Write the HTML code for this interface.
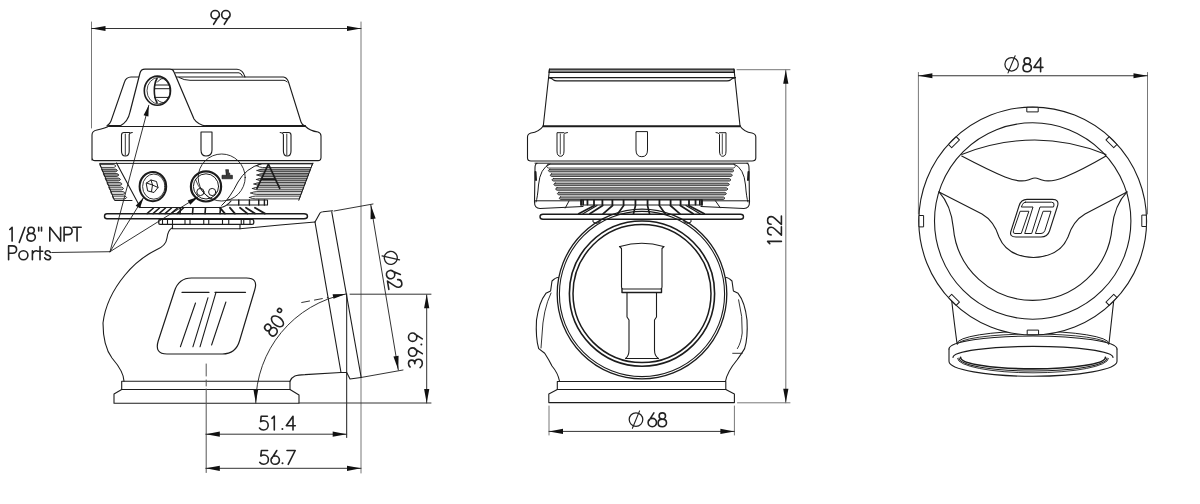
<!DOCTYPE html>
<html><head><meta charset="utf-8"><style>
html,body{margin:0;padding:0;background:#fff;}
svg{display:block;will-change:transform;}
text{font-family:"Liberation Sans",sans-serif;}
</style></head><body>
<svg width="1200" height="504" viewBox="0 0 1200 504" stroke-linecap="round" stroke-linejoin="round">
<rect width="1200" height="504" fill="#fff"/>
<line x1="91.5" y1="22" x2="91.5" y2="128" stroke="#787878" stroke-width="1.0" />
<line x1="361" y1="22" x2="361" y2="473" stroke="#787878" stroke-width="1.0" />
<line x1="91.5" y1="28.5" x2="361" y2="28.5" stroke="#333" stroke-width="1.0" />
<path d="M91.50,28.50 L105.50,25.90 L105.50,31.10 Z" fill="#111" stroke="none"/>
<path d="M361.00,28.50 L347.00,31.10 L347.00,25.90 Z" fill="#111" stroke="none"/>
<g transform="translate(211,24.3) scale(1.0000,1.0000)" fill="none" stroke="#222" stroke-width="1.600" stroke-linecap="round" stroke-linejoin="round"><path transform="translate(0.00,0)" d="M2.6,0 L7.5,-7.7 M8.4,-9.65 C8.4,-7.4 6.6,-5.5 4.2,-5.5 C1.8,-5.5 0,-7.4 0,-9.65 C0,-11.9 1.8,-13.8 4.2,-13.8 C6.6,-13.8 8.4,-11.9 8.4,-9.65 Z"/><path transform="translate(10.70,0)" d="M2.6,0 L7.5,-7.7 M8.4,-9.65 C8.4,-7.4 6.6,-5.5 4.2,-5.5 C1.8,-5.5 0,-7.4 0,-9.65 C0,-11.9 1.8,-13.8 4.2,-13.8 C6.6,-13.8 8.4,-11.9 8.4,-9.65 Z"/></g>
<path d="M172,69.2 L237,69.2 Q243,69.5 245,77" stroke="#1c1c1c" stroke-width="1.1" fill="none" />
<path d="M175.5,72.8 L239,72.8 Q241.5,73.5 242.5,76" stroke="#1c1c1c" stroke-width="1.0" fill="none" />
<path d="M107,125.8 Q110,124 111,121 L124.5,82 Q126,77.2 131,77 L283.4,77 Q287,77.5 288.5,82 L301,122 Q302,125 305,126" stroke="#1c1c1c" stroke-width="1.1" fill="none" />
<path d="M179,77.5 Q184,80.3 190,80.3 L284,80.3 Q286,80.5 287,82" stroke="#1c1c1c" stroke-width="1.0" fill="none" />
<line x1="109" y1="126" x2="305" y2="126" stroke="#1c1c1c" stroke-width="2.0" />
<path d="M120,126 Q128,122 130,112 L140,73 Q141,69.2 145,69.2 L170,69.2 Q173,69.2 174,72 L194,119 Q198,125 206.5,126" stroke="#1c1c1c" stroke-width="1.2" fill="#fff" />
<ellipse cx="157.4" cy="90.7" rx="13.1" ry="14.6" fill="#fff" stroke="#1c1c1c" stroke-width="1.6"/>
<ellipse cx="158.6" cy="90.7" rx="11.6" ry="13.2" fill="none" stroke="#1c1c1c" stroke-width="0.8"/>
<path d="M157,78.5 Q154.3,83 154.3,90.7 Q154.3,98 157,102.5" stroke="#1c1c1c" stroke-width="1.6" fill="none" />
<path d="M154.5,85 L169.5,85 M154.5,88.7 L170,88.7 M154.5,97.4 L168.5,97.4" stroke="#1c1c1c" stroke-width="1.0" fill="none" />
<path d="M157.5,82 Q161,77 166,79 M157.5,100 Q162,104 166,102" stroke="#1c1c1c" stroke-width="0.9" fill="none" />
<path d="M92,160 L92,135 Q92,131 97,130 Q106,128 109,126 M305,126 Q310,131 318,132 Q321,133 321,136 L321,157.5 Q321,160.6 318,160.6 L95,160.6 Q92,160.6 92,157.5" stroke="#1c1c1c" stroke-width="1.1" fill="none" />
<line x1="100" y1="163.4" x2="313" y2="163.4" stroke="#1c1c1c" stroke-width="1.0" />
<path d="M132.3,132.5 Q129.5,132.7 129.2,134.5 L129.2,151 Q129.2,156 125.3,156 Q121.5,156 121.5,151 L121.5,135 Q121.5,132.5 124,132.5 L129.5,132.5" stroke="#1c1c1c" stroke-width="1.1" fill="none" />
<path d="M125.3,134 L125.3,155" stroke="#1c1c1c" stroke-width="0.9" fill="none" />
<path d="M201,132 L201,150 Q201,156 206,156 Q212,156 212,150 L212,132 Z" stroke="#1c1c1c" stroke-width="1.1" fill="none" />
<path d="M280.2,132.5 Q283,132.7 283.4,134.5 L283.4,151 Q283.4,156 287.2,156 Q291,156 291,151 L291,135 Q291,132.5 288.5,132.5 L283,132.5" stroke="#1c1c1c" stroke-width="1.1" fill="none" />
<path d="M286.8,134 L286.8,155" stroke="#1c1c1c" stroke-width="0.9" fill="none" />
<path d="M100.1,164.6 L113.9,164.6 Q117.9,166.0 113.9,167.4 L101.3,167.4 Z" stroke="#1c1c1c" stroke-width="0.85" fill="#fff" />
<path d="M101.9,169.1 L115.4,169.1 Q119.4,170.5 115.4,171.9 L103.1,171.9 Z" stroke="#1c1c1c" stroke-width="0.85" fill="#8e8e8e" />
<path d="M103.7,173.6 L116.9,173.6 Q120.9,175.0 116.9,176.4 L104.9,176.4 Z" stroke="#1c1c1c" stroke-width="0.85" fill="#8e8e8e" />
<path d="M105.5,178.1 L118.5,178.1 Q122.5,179.5 118.5,180.9 L106.7,180.9 Z" stroke="#1c1c1c" stroke-width="0.85" fill="#9a9a9a" />
<path d="M107.3,182.6 L120.0,182.6 Q124.0,184.0 120.0,185.4 L108.5,185.4 Z" stroke="#1c1c1c" stroke-width="0.85" fill="#b8b8b8" />
<path d="M109.1,187.1 L121.5,187.1 Q125.5,188.5 121.5,189.9 L110.3,189.9 Z" stroke="#1c1c1c" stroke-width="0.85" fill="#c8c8c8" />
<path d="M110.9,191.6 L123.0,191.6 Q127.0,193.0 123.0,194.4 L112.1,194.4 Z" stroke="#1c1c1c" stroke-width="0.85" fill="#e0e0e0" />
<path d="M112.7,196.1 L124.6,196.1 Q128.6,197.5 124.6,198.9 L113.9,198.9 Z" stroke="#1c1c1c" stroke-width="0.85" fill="#f0f0f0" />
<path d="M99.8,163.75 L114.6,200.5 L132,200.5" stroke="#1c1c1c" stroke-width="1.0" fill="none" />
<path d="M116.5,162.9 L140.4,207.5 L220,207.5 Q226,207.3 231,201" stroke="#1c1c1c" stroke-width="1.1" fill="none" />
<path d="M256.5,165.7 Q259.5,163.9 262.5,163.9 L312.5,163.9 L311.1,167.5 L262.5,167.5 Q259.5,167.5 256.5,165.7 Z" stroke="#1c1c1c" stroke-width="0.85" fill="#fff" />
<path d="M257.0,170.5 Q260.0,169.1 263.0,169.1 L310.5,169.1 L309.5,171.9 L263.0,171.9 Q260.0,171.9 257.0,170.5 Z" stroke="#1c1c1c" stroke-width="0.85" fill="#8e8e8e" />
<path d="M257.0,175.0 Q260.0,173.6 263.0,173.6 L308.8,173.6 L307.8,176.4 L263.0,176.4 Q260.0,176.4 257.0,175.0 Z" stroke="#1c1c1c" stroke-width="0.85" fill="#8e8e8e" />
<path d="M256.5,179.5 Q259.5,178.1 262.5,178.1 L307.1,178.1 L306.1,180.9 L262.5,180.9 Q259.5,180.9 256.5,179.5 Z" stroke="#1c1c1c" stroke-width="0.85" fill="#9a9a9a" />
<path d="M254.0,184.0 Q257.0,182.6 260.0,182.6 L305.4,182.6 L304.4,185.4 L260.0,185.4 Q257.0,185.4 254.0,184.0 Z" stroke="#1c1c1c" stroke-width="0.85" fill="#b8b8b8" />
<path d="M252.5,188.5 Q255.5,187.1 258.5,187.1 L303.7,187.1 L302.7,189.9 L258.5,189.9 Q255.5,189.9 252.5,188.5 Z" stroke="#1c1c1c" stroke-width="0.85" fill="#c8c8c8" />
<path d="M250.8,193.0 Q253.8,191.6 256.8,191.6 L302.0,191.6 L301.0,194.4 L256.8,194.4 Q253.8,194.4 250.8,193.0 Z" stroke="#1c1c1c" stroke-width="0.85" fill="#e0e0e0" />
<path d="M249.5,197.5 Q252.5,196.1 255.5,196.1 L300.3,196.1 L299.3,198.9 L255.5,198.9 Q252.5,198.9 249.5,197.5 Z" stroke="#1c1c1c" stroke-width="0.85" fill="#f0f0f0" />
<path d="M312.75,163.2 L298.8,200.3" stroke="#1c1c1c" stroke-width="1.0" fill="none" />
<path d="M261,163.8 Q246,168 238,182 Q230,198 221.7,205.4" stroke="#1c1c1c" stroke-width="1.0" fill="none" />
<path d="M257,188.4 L268.4,164.2 L279.7,188.4 M261.7,179.2 L275,179.2" stroke="#1c1c1c" stroke-width="1.7" fill="none" />
<ellipse cx="152.9" cy="186.6" rx="13.3" ry="14.6" fill="#fff" stroke="#1c1c1c" stroke-width="2.0"/>
<ellipse cx="153.8" cy="186.6" rx="11.2" ry="12.6" fill="none" stroke="#1c1c1c" stroke-width="0.9"/>
<path d="M146.5,183 L151,180 L156.5,181.5 L158,187.5 L154,192.5 L148,191 Z M151,180 L152.5,185 L158,187.5 M152.5,185 L146.5,183 M152.5,185 L151.5,191.5" stroke="#1c1c1c" stroke-width="1.0" fill="none" />
<circle cx="206" cy="186.4" r="15.1" stroke="#1c1c1c" stroke-width="2.2" fill="#fff" />
<circle cx="206" cy="186.4" r="12.6" stroke="#1c1c1c" stroke-width="1.0" fill="none" />
<circle cx="200.4" cy="192" r="3.6" stroke="#1c1c1c" stroke-width="1.0" fill="none" />
<circle cx="212.2" cy="192" r="3.6" stroke="#1c1c1c" stroke-width="1.0" fill="none" />
<path d="M195.5,179.4 Q200,192 210.8,198.9" stroke="#1c1c1c" stroke-width="0.8" fill="none" />
<circle cx="221.7" cy="177.5" r="23.5" stroke="#1c1c1c" stroke-width="0.9" fill="none" />
<path d="M226,169.7 L228.5,169.7 L228.5,172.5 L230,173.5 L229.5,175.3 L232.4,175.3 L232.4,178.75 L222,178.75 L222,175.3 L226,175.3 Z" stroke="#1c1c1c" stroke-width="0.7" fill="#3a3a3a" />
<path d="M227.5,200 L267.5,200 L267.5,205 L227.5,205" stroke="#1c1c1c" stroke-width="1.1" fill="none" />
<line x1="238.75" y1="200" x2="238.75" y2="205" stroke="#1c1c1c" stroke-width="1.4" />
<line x1="249.4" y1="200" x2="249.4" y2="205" stroke="#1c1c1c" stroke-width="1.4" />
<line x1="258.75" y1="200" x2="258.75" y2="205" stroke="#1c1c1c" stroke-width="1.4" />
<line x1="264.4" y1="200" x2="264.4" y2="205" stroke="#1c1c1c" stroke-width="1.4" />
<line x1="147" y1="213.6" x2="153.5" y2="208" stroke="#1c1c1c" stroke-width="1.5" />
<line x1="153" y1="213.6" x2="159.5" y2="208" stroke="#1c1c1c" stroke-width="1.5" />
<line x1="159" y1="213.6" x2="165.5" y2="208" stroke="#1c1c1c" stroke-width="1.5" />
<line x1="165" y1="213.6" x2="171.5" y2="208" stroke="#1c1c1c" stroke-width="1.5" />
<line x1="171" y1="213.6" x2="177.5" y2="208" stroke="#1c1c1c" stroke-width="1.5" />
<line x1="177" y1="213.6" x2="183.5" y2="208" stroke="#1c1c1c" stroke-width="1.5" />
<line x1="180" y1="213.6" x2="180.5" y2="207.8" stroke="#1c1c1c" stroke-width="1.6" />
<line x1="192.5" y1="213.6" x2="193.0" y2="207.8" stroke="#1c1c1c" stroke-width="1.6" />
<line x1="205" y1="213.6" x2="205.5" y2="207.8" stroke="#1c1c1c" stroke-width="1.6" />
<line x1="220" y1="213.6" x2="220.5" y2="207.8" stroke="#1c1c1c" stroke-width="1.6" />
<line x1="220" y1="207.8" x2="225" y2="213.6" stroke="#1c1c1c" stroke-width="1.8" />
<line x1="230" y1="207.8" x2="235" y2="213.6" stroke="#1c1c1c" stroke-width="1.8" />
<line x1="240" y1="207.8" x2="247.5" y2="213.6" stroke="#1c1c1c" stroke-width="1.8" />
<line x1="246" y1="207.8" x2="255" y2="213.6" stroke="#1c1c1c" stroke-width="1.8" />
<line x1="255" y1="207.8" x2="265" y2="213.6" stroke="#1c1c1c" stroke-width="1.8" />
<path d="M107,213.75 L304,213.75 Q307.5,213.75 307.5,216.25 Q307.5,218.75 304,218.75 L107,218.75 Q104.5,218.75 104.5,216.25 Q104.5,213.75 107,213.75 Z" stroke="#1c1c1c" stroke-width="1.4" fill="none" />
<path d="M160,219.4 L252,219.4 Q253.75,219.4 253.75,221 L253.75,223 Q253.75,224.4 252,224.4 L160,224.4 Q158.75,224.4 158.75,223 L158.75,221 Q158.75,219.4 160,219.4 Z" stroke="#1c1c1c" stroke-width="1.3" fill="none" />
<line x1="162.5" y1="219.6" x2="162.5" y2="224.2" stroke="#1c1c1c" stroke-width="1.1" />
<line x1="167.5" y1="219.6" x2="167.5" y2="224.2" stroke="#1c1c1c" stroke-width="1.1" />
<line x1="172.5" y1="219.6" x2="172.5" y2="224.2" stroke="#1c1c1c" stroke-width="1.1" />
<line x1="185" y1="219.6" x2="185" y2="224.2" stroke="#1c1c1c" stroke-width="1.1" />
<line x1="190" y1="219.6" x2="190" y2="224.2" stroke="#1c1c1c" stroke-width="1.1" />
<line x1="203.75" y1="219.6" x2="203.75" y2="224.2" stroke="#1c1c1c" stroke-width="1.1" />
<line x1="208.75" y1="219.6" x2="208.75" y2="224.2" stroke="#1c1c1c" stroke-width="1.1" />
<line x1="222.5" y1="219.6" x2="222.5" y2="224.2" stroke="#1c1c1c" stroke-width="1.1" />
<line x1="228.75" y1="219.6" x2="228.75" y2="224.2" stroke="#1c1c1c" stroke-width="1.1" />
<line x1="241.25" y1="219.6" x2="241.25" y2="224.2" stroke="#1c1c1c" stroke-width="1.1" />
<line x1="243.75" y1="219.6" x2="243.75" y2="224.2" stroke="#1c1c1c" stroke-width="1.1" />
<line x1="250" y1="219.6" x2="250" y2="224.2" stroke="#1c1c1c" stroke-width="1.1" />
<path d="M172.5,224.6 L172.5,228.75 L240,228.75 L240,224.6" stroke="#1c1c1c" stroke-width="1.1" fill="none" />
<path d="M240,228.75 L280,225 L315,222" stroke="#1c1c1c" stroke-width="1.1" fill="none" />
<path d="M315,222 L320,213 Q321,211.8 323,211.7 L332.5,210.8" stroke="#1c1c1c" stroke-width="1.1" fill="none" />
<line x1="315" y1="222" x2="341" y2="372.5" stroke="#1c1c1c" stroke-width="1.1" />
<line x1="331.7" y1="211.7" x2="361.2" y2="377.5" stroke="#1c1c1c" stroke-width="1.1" />
<line x1="346.7" y1="294" x2="346.7" y2="437.5" stroke="#1c1c1c" stroke-width="1.0" />
<path d="M290,381.3 C292,376 296,374.8 305,374.6 L340.8,372.5 L346.7,372.5 L350,379 L361,377.5" stroke="#1c1c1c" stroke-width="1.1" fill="none" />
<path d="M172,228 Q168,230 167,238 Q166,246 156,250 Q138,259 125,275 Q106,298 103,323 Q103,346 112,358 Q124,372 124,381.3" stroke="#1c1c1c" stroke-width="1.1" fill="none" />
<path d="M121.7,381.3 L290,381.3 L290,389.5 L121.7,389.5 Z" stroke="#1c1c1c" stroke-width="1.1" fill="none" />
<path d="M121.7,389.5 L114,394 L114,403.3 L299,403.3 L299,395 L290,389.5" stroke="#1c1c1c" stroke-width="1.1" fill="none" />
<path d="M191.5,278 L246.5,278 Q258.5,278 254.7,290 L239.5,341 Q235.6,354 222.5,354 L167,354 Q154.3,354 158.2,341 L174.5,291 Q178.7,278 191.5,278 Z" stroke="#1c1c1c" stroke-width="1.2" fill="none" />
<path d="M182,292.3 L209,292.3 M215,292.3 L245.5,292.3" stroke="#1c1c1c" stroke-width="1.3" fill="none" />
<line x1="195.5" y1="303" x2="180.4" y2="346.8" stroke="#1c1c1c" stroke-width="1.1" />
<line x1="208" y1="297.7" x2="192.9" y2="346.8" stroke="#1c1c1c" stroke-width="1.1" />
<line x1="216" y1="292.3" x2="200" y2="346.8" stroke="#1c1c1c" stroke-width="1.1" />
<line x1="225.9" y1="302" x2="211.6" y2="345" stroke="#1c1c1c" stroke-width="1.1" />
<line x1="206.2" y1="364" x2="206.2" y2="376" stroke="#555" stroke-width="1.0" />
<line x1="206.2" y1="380" x2="206.2" y2="386" stroke="#555" stroke-width="1.0" />
<line x1="206.2" y1="389" x2="206.2" y2="472.5" stroke="#555" stroke-width="1.0" />
<path d="M255.8,403 A111,111 0 0 1 345.8,294" stroke="#1c1c1c" stroke-width="0.9" fill="none" />
<path d="M255.80,403.00 L253.50,390.00 L258.10,390.00 Z" fill="#111" stroke="none"/>
<path d="M345.80,294.00 L333.52,298.83 L332.60,294.33 Z" fill="#111" stroke="none"/>
<line x1="301.7" y1="302.5" x2="328" y2="297.5" stroke="#1c1c1c" stroke-width="0.9" stroke-dasharray="8,5"/>
<g transform="translate(273.6,337.5) rotate(-52) scale(1.0000,1.0000)" fill="none" stroke="#222" stroke-width="1.600" stroke-linecap="round" stroke-linejoin="round"><path transform="translate(0.00,0)" d="M4.3,-13.8 C6.1,-13.8 7.5,-12.4 7.5,-10.6 C7.5,-8.8 6.1,-7.6 4.3,-7.6 C2.5,-7.6 1.1,-8.8 1.1,-10.6 C1.1,-12.4 2.5,-13.8 4.3,-13.8 Z M4.3,-7.6 C6.7,-7.6 8.5,-6 8.5,-3.8 C8.5,-1.6 6.7,0 4.3,0 C1.9,0 0.1,-1.6 0.1,-3.8 C0.1,-6 1.9,-7.6 4.3,-7.6 Z"/><path transform="translate(10.85,0)" d="M4.25,-13.8 C6.6,-13.8 8.5,-10.7 8.5,-6.9 C8.5,-3.1 6.6,0 4.25,0 C1.9,0 0,-3.1 0,-6.9 C0,-10.7 1.9,-13.8 4.25,-13.8 Z"/><path transform="translate(23.00,0)" d="M2,-14 C3.1,-14 4,-13.1 4,-12 C4,-10.9 3.1,-10 2,-10 C0.9,-10 0,-10.9 0,-12 C0,-13.1 0.9,-14 2,-14 Z"/></g>
<line x1="334" y1="211" x2="373" y2="204" stroke="#1c1c1c" stroke-width="0.9" />
<line x1="361" y1="377.5" x2="403" y2="370" stroke="#1c1c1c" stroke-width="0.9" />
<line x1="370.8" y1="205" x2="398.3" y2="370" stroke="#1c1c1c" stroke-width="0.9" />
<path d="M370.80,205.00 L375.67,218.38 L370.54,219.24 Z" fill="#111" stroke="none"/>
<path d="M398.30,370.00 L393.43,356.62 L398.56,355.76 Z" fill="#111" stroke="none"/>
<g transform="translate(390.8,257.9) rotate(80.5)"><circle r="6.5" fill="none" stroke="#222" stroke-width="1.3"/><line x1="-3.45" y1="8.32" x2="3.45" y2="-8.32" stroke="#222" stroke-width="1.17"/></g>
<g transform="translate(385.7794,270.90349999999995) rotate(80.5) scale(1.0000,1.0000)" fill="none" stroke="#222" stroke-width="1.600" stroke-linecap="round" stroke-linejoin="round"><path transform="translate(0.00,0)" d="M6,-13.8 L1.1,-6.1 M0.2,-4.15 C0.2,-6.4 2,-8.3 4.4,-8.3 C6.8,-8.3 8.6,-6.4 8.6,-4.15 C8.6,-1.9 6.8,0 4.4,0 C2,0 0.2,-1.9 0.2,-4.15 Z"/><path transform="translate(10.10,0)" d="M0.5,-10.3 C0.5,-12.5 2.2,-13.8 4.3,-13.8 C6.5,-13.8 8.1,-12.3 8.1,-10.2 C8.1,-8.8 7.5,-7.8 6.4,-6.6 L0.2,0 L8.6,0"/></g>
<line x1="350" y1="294.2" x2="431" y2="294.2" stroke="#333" stroke-width="1.0" />
<line x1="299" y1="403" x2="431" y2="403" stroke="#333" stroke-width="1.0" />
<line x1="426.7" y1="295" x2="426.7" y2="403" stroke="#333" stroke-width="1.0" />
<path d="M426.70,294.20 L429.30,308.20 L424.10,308.20 Z" fill="#111" stroke="none"/>
<path d="M426.70,403.00 L424.10,389.00 L429.30,389.00 Z" fill="#111" stroke="none"/>
<g transform="translate(422.3,367.7) rotate(-90) scale(1.0000,1.0000)" fill="none" stroke="#222" stroke-width="1.600" stroke-linecap="round" stroke-linejoin="round"><path transform="translate(0.00,0)" d="M0.7,-12.2 C1.5,-13.3 2.7,-13.8 4.1,-13.8 C6.2,-13.8 7.6,-12.5 7.6,-10.6 C7.6,-8.7 6.2,-7.5 4,-7.5 C6.6,-7.5 8.5,-6 8.5,-3.8 C8.5,-1.4 6.6,0 4.2,0 C2.4,0 1,-0.8 0.1,-2.2"/><path transform="translate(11.40,0)" d="M2.6,0 L7.5,-7.7 M8.4,-9.65 C8.4,-7.4 6.6,-5.5 4.2,-5.5 C1.8,-5.5 0,-7.4 0,-9.65 C0,-11.9 1.8,-13.8 4.2,-13.8 C6.6,-13.8 8.4,-11.9 8.4,-9.65 Z"/><path transform="translate(26.30,0)" d="M2.6,0 L7.5,-7.7 M8.4,-9.65 C8.4,-7.4 6.6,-5.5 4.2,-5.5 C1.8,-5.5 0,-7.4 0,-9.65 C0,-11.9 1.8,-13.8 4.2,-13.8 C6.6,-13.8 8.4,-11.9 8.4,-9.65 Z"/><circle cx="23.30" cy="-0.95" r="1.0" fill="#222" stroke="none"/></g>
<line x1="205.8" y1="434.2" x2="346.7" y2="434.2" stroke="#333" stroke-width="1.0" />
<path d="M205.80,434.20 L219.80,431.60 L219.80,436.80 Z" fill="#111" stroke="none"/>
<path d="M346.70,434.20 L332.70,436.80 L332.70,431.60 Z" fill="#111" stroke="none"/>
<g transform="translate(259.5,430) scale(1.0000,1.0000)" fill="none" stroke="#222" stroke-width="1.600" stroke-linecap="round" stroke-linejoin="round"><path transform="translate(0.00,0)" d="M7.9,-13.8 L1.7,-13.8 L1.1,-8.3 C2,-9 3.1,-9.3 4.3,-9.3 C6.8,-9.3 8.7,-7.4 8.7,-4.7 C8.7,-1.8 6.6,0 4,0 C2.3,0 0.9,-0.7 0,-2"/><path transform="translate(12.50,0)" d="M0,-11.6 L2.3,-13.8 L2.3,0"/><path transform="translate(26.80,0)" d="M6.7,0 L6.7,-13.8 L0,-4.3 L9,-4.3"/><circle cx="22.90" cy="-0.95" r="1.0" fill="#222" stroke="none"/></g>
<line x1="205.8" y1="468.3" x2="361" y2="468.3" stroke="#333" stroke-width="1.0" />
<path d="M205.80,468.30 L219.80,465.70 L219.80,470.90 Z" fill="#111" stroke="none"/>
<path d="M361.00,468.30 L347.00,470.90 L347.00,465.70 Z" fill="#111" stroke="none"/>
<g transform="translate(259.7,464.3) scale(1.0000,1.0000)" fill="none" stroke="#222" stroke-width="1.600" stroke-linecap="round" stroke-linejoin="round"><path transform="translate(0.00,0)" d="M7.9,-13.8 L1.7,-13.8 L1.1,-8.3 C2,-9 3.1,-9.3 4.3,-9.3 C6.8,-9.3 8.7,-7.4 8.7,-4.7 C8.7,-1.8 6.6,0 4,0 C2.3,0 0.9,-0.7 0,-2"/><path transform="translate(11.10,0)" d="M6,-13.8 L1.1,-6.1 M0.2,-4.15 C0.2,-6.4 2,-8.3 4.4,-8.3 C6.8,-8.3 8.6,-6.4 8.6,-4.15 C8.6,-1.9 6.8,0 4.4,0 C2,0 0.2,-1.9 0.2,-4.15 Z"/><path transform="translate(27.30,0)" d="M0,-13.8 L8.2,-13.8 L1.2,0"/><circle cx="22.80" cy="-0.95" r="1.0" fill="#222" stroke="none"/></g>
<g transform="translate(9.8,241.1) scale(1.0000,1.0000)" fill="none" stroke="#222" stroke-width="1.600" stroke-linecap="round" stroke-linejoin="round"><path transform="translate(0.00,0)" d="M0,-11.6 L2.3,-13.8 L2.3,0"/><path transform="translate(9.50,0)" d="M0,1.3 L5.6,-13.8"/><path transform="translate(17.00,0)" d="M4.3,-13.8 C6.1,-13.8 7.5,-12.4 7.5,-10.6 C7.5,-8.8 6.1,-7.6 4.3,-7.6 C2.5,-7.6 1.1,-8.8 1.1,-10.6 C1.1,-12.4 2.5,-13.8 4.3,-13.8 Z M4.3,-7.6 C6.7,-7.6 8.5,-6 8.5,-3.8 C8.5,-1.6 6.7,0 4.3,0 C1.9,0 0.1,-1.6 0.1,-3.8 C0.1,-6 1.9,-7.6 4.3,-7.6 Z"/><path transform="translate(28.50,0)" d="M0.4,-13.8 L0.4,-10.2 M3.2,-13.8 L3.2,-10.2"/><path transform="translate(40.00,0)" d="M0,0 L0,-13.8 L10.8,0 L10.8,-13.8"/><path transform="translate(54.30,0)" d="M0,0 L0,-13.8 L4,-13.8 C6.6,-13.8 8,-12.3 8,-10.1 C8,-7.9 6.6,-6.5 4,-6.5 L0,-6.5"/><path transform="translate(63.10,0)" d="M0,-13.8 L8.3,-13.8 M4.15,-13.8 L4.15,0"/></g>
<g transform="translate(8.6,259.7) scale(1.0000,1.0000)" fill="none" stroke="#222" stroke-width="1.600" stroke-linecap="round" stroke-linejoin="round"><path transform="translate(0.00,0)" d="M0,0 L0,-13.8 L4,-13.8 C6.6,-13.8 8,-12.3 8,-10.1 C8,-7.9 6.6,-6.5 4,-6.5 L0,-6.5"/><path transform="translate(10.30,0)" d="M4.5,-8.9 C7,-8.9 9,-6.9 9,-4.45 C9,-2 7,0 4.5,0 C2,0 0,-2 0,-4.45 C0,-6.9 2,-8.9 4.5,-8.9 Z"/><path transform="translate(23.80,0)" d="M0,0 L0,-8.9 M0,-5.2 C0.6,-7.7 2.2,-8.9 4.3,-8.9"/><path transform="translate(28.90,0)" d="M2.5,-13.1 L2.5,0 M0,-8.5 L5.2,-8.5"/><path transform="translate(36.10,0)" d="M5.5,-7.4 C5.1,-8.4 4.2,-8.9 3,-8.9 C1.5,-8.9 0.5,-8.1 0.5,-6.8 C0.5,-5.4 1.8,-4.9 3.2,-4.5 C4.7,-4.1 5.9,-3.5 5.9,-2.3 C5.9,-0.8 4.7,0 3.1,0 C1.7,0 0.6,-0.7 0,-1.9"/></g>
<line x1="51.7" y1="252.5" x2="110" y2="251.7" stroke="#1c1c1c" stroke-width="0.9" />
<line x1="110" y1="251.7" x2="148.8" y2="105.3" stroke="#1c1c1c" stroke-width="0.9" />
<path d="M148.80,105.30 L148.40,116.57 L143.57,115.29 Z" fill="#111" stroke="none"/>
<line x1="110" y1="251.7" x2="143.6" y2="197.6" stroke="#1c1c1c" stroke-width="0.9" />
<path d="M143.60,197.60 L139.92,208.26 L135.67,205.63 Z" fill="#111" stroke="none"/>
<line x1="110" y1="251.7" x2="198.3" y2="196.7" stroke="#1c1c1c" stroke-width="0.9" />
<path d="M198.30,196.70 L190.28,204.64 L187.64,200.39 Z" fill="#111" stroke="none"/>
<path d="M549.5,69.1 L734,69.1 L734.5,72.4 L549,72.4 Z" stroke="#1c1c1c" stroke-width="1.1" fill="#9a9a9a" />
<path d="M548.5,77.6 L735.5,77.6" stroke="#1c1c1c" stroke-width="1.1" fill="none" />
<path d="M548.5,77.6 Q552,78 553.5,80 Q554.5,80.9 557,80.9 L727,80.9 Q729.5,80.9 730.5,80 Q732,78 735.5,77.6" stroke="#1c1c1c" stroke-width="1.1" fill="none" />
<path d="M549.5,69.1 L543.3,125.8 M734,69.1 L740,125.8" stroke="#1c1c1c" stroke-width="1.1" fill="none" />
<line x1="543.3" y1="126.2" x2="740" y2="126.2" stroke="#1c1c1c" stroke-width="2.0" />
<path d="M543.3,126 Q539,132 531,133 Q527.5,134 527.5,137 L527.5,158 Q527.5,161 531,161 L752,161 Q755.8,161 755.8,158 L755.8,137 Q755.8,134 752,133 Q744,132 740,126" stroke="#1c1c1c" stroke-width="1.1" fill="none" />
<line x1="535" y1="163.2" x2="748" y2="163.2" stroke="#1c1c1c" stroke-width="1.0" />
<path d="M567.5,132.5 Q564.5,132.5 564,134.5 L564,151 Q564,156.3 560.5,156.3 Q557,156.3 557,151 L557,132.7 L564,132.7" stroke="#1c1c1c" stroke-width="1.0" fill="none" />
<path d="M560.3,134 L560.3,154" stroke="#1c1c1c" stroke-width="0.8" fill="none" />
<path d="M636,132 L636,150 Q636,156.7 641.8,156.7 Q647.5,156.7 647.5,150 L647.5,132 Z" stroke="#1c1c1c" stroke-width="1.0" fill="none" />
<path d="M716,132.5 Q719,132.5 719.5,134.5 L719.5,151 Q719.5,156.3 722.8,156.3 Q726,156.3 726,151 L726,132.7 L719.5,132.7" stroke="#1c1c1c" stroke-width="1.0" fill="none" />
<path d="M722.3,134 L722.3,154" stroke="#1c1c1c" stroke-width="0.8" fill="none" />
<path d="M548.0,164.4 L734.0,164.4 Q737.0,166.2 734.0,168.0 L548.0,168.0 Q545.0,166.2 548.0,164.4 Z" stroke="#1c1c1c" stroke-width="0.75" fill="#fff" />
<path d="M549.8,169.3 L732.5,169.3 Q735.5,170.6 732.5,171.9 L549.8,171.9 Q546.8,170.6 549.8,169.3 Z" stroke="#1c1c1c" stroke-width="0.75" fill="#959595" />
<path d="M551.6,173.9 L731.0,173.9 Q734.0,175.2 731.0,176.5 L551.6,176.5 Q548.6,175.2 551.6,173.9 Z" stroke="#1c1c1c" stroke-width="0.75" fill="#959595" />
<path d="M553.4,178.5 L729.5,178.5 Q732.5,179.8 729.5,181.1 L553.4,181.1 Q550.4,179.8 553.4,178.5 Z" stroke="#1c1c1c" stroke-width="0.75" fill="#959595" />
<path d="M555.2,183.1 L728.0,183.1 Q731.0,184.4 728.0,185.7 L555.2,185.7 Q552.2,184.4 555.2,183.1 Z" stroke="#1c1c1c" stroke-width="0.75" fill="#959595" />
<path d="M557.0,187.7 L726.5,187.7 Q729.5,189.0 726.5,190.3 L557.0,190.3 Q554.0,189.0 557.0,187.7 Z" stroke="#1c1c1c" stroke-width="0.75" fill="#959595" />
<path d="M558.8,192.3 L725.0,192.3 Q728.0,193.6 725.0,194.9 L558.8,194.9 Q555.8,193.6 558.8,192.3 Z" stroke="#1c1c1c" stroke-width="0.75" fill="#959595" />
<path d="M560.6,196.9 L723.5,196.9 Q726.5,198.2 723.5,199.5 L560.6,199.5 Q557.6,198.2 560.6,196.9 Z" stroke="#1c1c1c" stroke-width="0.75" fill="#959595" />
<path d="M550,164 Q540,168 538.5,185 Q537.5,198 536,202" stroke="#1c1c1c" stroke-width="1.0" fill="none" />
<path d="M537,163.3 Q535,164 535,168 L534.5,202 Q534.5,208.5 540,208.5 L583,206.5" stroke="#1c1c1c" stroke-width="1.1" fill="none" />
<path d="M534.7,200.8 L582,200.8" stroke="#1c1c1c" stroke-width="1.0" fill="none" />
<path d="M565.3,208 L569,201" stroke="#1c1c1c" stroke-width="1.0" fill="none" />
<path d="M734,164 Q744,168 745.5,185 Q746.5,198 748,202" stroke="#1c1c1c" stroke-width="1.0" fill="none" />
<path d="M747,163.3 Q749,164 749,168 L749.5,202 Q749.5,208.5 744,208.5 L701,206.5" stroke="#1c1c1c" stroke-width="1.1" fill="none" />
<path d="M749.3,200.8 L702,200.8" stroke="#1c1c1c" stroke-width="1.0" fill="none" />
<path d="M720.3,207.8 L715.4,200.8" stroke="#1c1c1c" stroke-width="1.0" fill="none" />
<path d="M535.5,172 L536,180 M748.5,172 L748,180" stroke="#1c1c1c" stroke-width="2.0" fill="none" />
<path d="M581,199.8 L702,199.8" stroke="#1c1c1c" stroke-width="1.2" fill="none" />
<path d="M581,205 L702,205" stroke="#1c1c1c" stroke-width="1.2" fill="none" />
<line x1="581.13" y1="200.5" x2="581.13" y2="204.5" stroke="#1c1c1c" stroke-width="1.8" />
<line x1="583.13" y1="200.5" x2="583.13" y2="204.5" stroke="#1c1c1c" stroke-width="1.8" />
<line x1="587.47" y1="200.5" x2="587.47" y2="204.5" stroke="#1c1c1c" stroke-width="1.8" />
<line x1="593.99" y1="200.5" x2="593.99" y2="204.5" stroke="#1c1c1c" stroke-width="1.8" />
<line x1="602.41" y1="200.5" x2="602.41" y2="204.5" stroke="#1c1c1c" stroke-width="1.8" />
<line x1="612.4" y1="200.5" x2="612.4" y2="204.5" stroke="#1c1c1c" stroke-width="1.8" />
<line x1="623.56" y1="200.5" x2="623.56" y2="204.5" stroke="#1c1c1c" stroke-width="1.8" />
<line x1="635.44" y1="200.5" x2="635.44" y2="204.5" stroke="#1c1c1c" stroke-width="1.8" />
<line x1="647.56" y1="200.5" x2="647.56" y2="204.5" stroke="#1c1c1c" stroke-width="1.8" />
<line x1="659.44" y1="200.5" x2="659.44" y2="204.5" stroke="#1c1c1c" stroke-width="1.8" />
<line x1="670.6" y1="200.5" x2="670.6" y2="204.5" stroke="#1c1c1c" stroke-width="1.8" />
<line x1="680.59" y1="200.5" x2="680.59" y2="204.5" stroke="#1c1c1c" stroke-width="1.8" />
<line x1="689.01" y1="200.5" x2="689.01" y2="204.5" stroke="#1c1c1c" stroke-width="1.8" />
<line x1="695.53" y1="200.5" x2="695.53" y2="204.5" stroke="#1c1c1c" stroke-width="1.8" />
<line x1="699.87" y1="200.5" x2="699.87" y2="204.5" stroke="#1c1c1c" stroke-width="1.8" />
<line x1="701.87" y1="200.5" x2="701.87" y2="204.5" stroke="#1c1c1c" stroke-width="1.8" />
<line x1="581" y1="200" x2="581" y2="205" stroke="#1c1c1c" stroke-width="1.2" />
<line x1="702" y1="200" x2="702" y2="205" stroke="#1c1c1c" stroke-width="1.2" />
<line x1="578.67" y1="213.8" x2="594.38" y2="205.5" stroke="#1c1c1c" stroke-width="1.7" />
<line x1="589.81" y1="213.8" x2="602.73" y2="205.5" stroke="#1c1c1c" stroke-width="1.7" />
<line x1="603.02" y1="213.8" x2="612.64" y2="205.5" stroke="#1c1c1c" stroke-width="1.7" />
<line x1="617.78" y1="213.8" x2="623.71" y2="205.5" stroke="#1c1c1c" stroke-width="1.7" />
<line x1="633.48" y1="213.8" x2="635.49" y2="205.5" stroke="#1c1c1c" stroke-width="1.7" />
<line x1="649.52" y1="213.8" x2="647.51" y2="205.5" stroke="#1c1c1c" stroke-width="1.7" />
<line x1="665.22" y1="213.8" x2="659.29" y2="205.5" stroke="#1c1c1c" stroke-width="1.7" />
<line x1="679.98" y1="213.8" x2="670.36" y2="205.5" stroke="#1c1c1c" stroke-width="1.7" />
<line x1="693.19" y1="213.8" x2="680.27" y2="205.5" stroke="#1c1c1c" stroke-width="1.7" />
<line x1="704.33" y1="213.8" x2="688.62" y2="205.5" stroke="#1c1c1c" stroke-width="1.7" />
<line x1="583" y1="213.8" x2="597" y2="205.5" stroke="#1c1c1c" stroke-width="1.2" />
<line x1="700" y1="213.8" x2="686" y2="205.5" stroke="#1c1c1c" stroke-width="1.2" />
<path d="M543,214.2 L740.5,214.2 Q743.5,214.2 743.5,216.7 Q743.5,219.2 740.5,219.2 L543,219.2 Q540,219.2 540,216.7 Q540,214.2 543,214.2 Z" stroke="#1c1c1c" stroke-width="1.4" fill="none" />
<path d="M593,219.5 L593,222 Q596.5,225 600,222 L600,219.5" stroke="#1c1c1c" stroke-width="1.0" fill="none" />
<path d="M684,219.5 L684,222 Q687.5,225 691,222 L691,219.5" stroke="#1c1c1c" stroke-width="1.0" fill="none" />
<clipPath id="cm"><rect x="400" y="207" width="500" height="175"/></clipPath>
<g clip-path="url(#cm)">
<circle cx="642" cy="294" r="84.8" stroke="#1c1c1c" stroke-width="1.3" fill="none" />
<circle cx="642" cy="294" r="82.6" stroke="#1c1c1c" stroke-width="1.1" fill="none" />
</g>
<circle cx="642" cy="293.6" r="72.6" stroke="#1c1c1c" stroke-width="1.6" fill="none" />
<circle cx="642" cy="293.6" r="69.0" stroke="#1c1c1c" stroke-width="1.5" fill="none" />
<path d="M620,246.5 Q641.8,240 663.5,246.5" stroke="#1c1c1c" stroke-width="1.1" fill="none" />
<path d="M619.5,246.5 L621.5,248.5 L621.5,287 Q621.5,289 623,289 L660.5,289 Q662,289 662,287 L662,248.5 L664,246.5" stroke="#1c1c1c" stroke-width="1.1" fill="none" />
<path d="M622,289 L622,292.5 L661.5,292.5 L661.5,289" stroke="#1c1c1c" stroke-width="1.4" fill="none" />
<path d="M627,292.5 L627,317 L629,320 L629,350 Q629,356 625.5,358.5 L658.5,358.5 Q654.5,356 654.5,350 L654.5,320 L656.5,317 L656.5,292.5" stroke="#1c1c1c" stroke-width="1.1" fill="none" />
<path d="M558.6,277.5 Q556,277 552,281 L550.6,291 L545.9,293.3 Q539,302 536.5,320 Q535.5,338 538.7,348.6 L544.7,353.3 Q549,360 552,366 Q558,373 559.6,381.5" stroke="#1c1c1c" stroke-width="1.1" fill="none" />
<path d="M551,293 Q543,310 542,335 L541,348" stroke="#1c1c1c" stroke-width="0.9" fill="none" />
<path d="M725.4,277.5 Q728,277 732,281 L733.4,291 L738.1,293.3 Q745,302 747,320 Q748,338 744.6,348.6 Q742,353 737,360 Q727,372 725.5,381.5" stroke="#1c1c1c" stroke-width="1.1" fill="none" />
<path d="M738.6,299.8 Q743,317 742.2,333 Q741,343 737.4,348.6 M732.7,353.3 L742.2,353.3" stroke="#1c1c1c" stroke-width="0.9" fill="none" />
<path d="M557.3,381.5 L725.8,381.5 L725.8,389.5 L557.3,389.5 Z" stroke="#1c1c1c" stroke-width="1.1" fill="none" />
<path d="M557.3,389.5 L548.8,394 L548.8,402.6 L734.4,402.6 L734.4,394 L725.8,389.5" stroke="#1c1c1c" stroke-width="1.1" fill="none" />
<line x1="549" y1="406" x2="549" y2="435" stroke="#787878" stroke-width="1.0" />
<line x1="734.4" y1="406" x2="734.4" y2="435" stroke="#787878" stroke-width="1.0" />
<line x1="549" y1="431.4" x2="734.4" y2="431.4" stroke="#333" stroke-width="1.0" />
<path d="M549.00,431.40 L563.00,428.80 L563.00,434.00 Z" fill="#111" stroke="none"/>
<path d="M734.40,431.40 L720.40,434.00 L720.40,428.80 Z" fill="#111" stroke="none"/>
<g transform="translate(636,419.6) rotate(0)"><circle r="6.8" fill="none" stroke="#222" stroke-width="1.25"/><line x1="-3.60" y1="8.70" x2="3.60" y2="-8.70" stroke="#222" stroke-width="1.12"/></g>
<g transform="translate(647.9,426.7) scale(1.0000,1.0000)" fill="none" stroke="#222" stroke-width="1.600" stroke-linecap="round" stroke-linejoin="round"><path transform="translate(0.00,0)" d="M6,-13.8 L1.1,-6.1 M0.2,-4.15 C0.2,-6.4 2,-8.3 4.4,-8.3 C6.8,-8.3 8.6,-6.4 8.6,-4.15 C8.6,-1.9 6.8,0 4.4,0 C2,0 0.2,-1.9 0.2,-4.15 Z"/><path transform="translate(10.10,0)" d="M4.3,-13.8 C6.1,-13.8 7.5,-12.4 7.5,-10.6 C7.5,-8.8 6.1,-7.6 4.3,-7.6 C2.5,-7.6 1.1,-8.8 1.1,-10.6 C1.1,-12.4 2.5,-13.8 4.3,-13.8 Z M4.3,-7.6 C6.7,-7.6 8.5,-6 8.5,-3.8 C8.5,-1.6 6.7,0 4.3,0 C1.9,0 0.1,-1.6 0.1,-3.8 C0.1,-6 1.9,-7.6 4.3,-7.6 Z"/></g>
<line x1="737" y1="69.7" x2="790" y2="69.7" stroke="#787878" stroke-width="1.0" />
<line x1="737.5" y1="402.8" x2="790" y2="402.8" stroke="#787878" stroke-width="1.0" />
<line x1="785.8" y1="69.7" x2="785.8" y2="402.8" stroke="#787878" stroke-width="1.1" />
<path d="M785.80,69.70 L788.40,83.70 L783.20,83.70 Z" fill="#111" stroke="none"/>
<path d="M785.80,402.80 L783.20,388.80 L788.40,388.80 Z" fill="#111" stroke="none"/>
<g transform="translate(781.4,243.7) rotate(-90) scale(1.0000,1.0000)" fill="none" stroke="#222" stroke-width="1.600" stroke-linecap="round" stroke-linejoin="round"><path transform="translate(0.00,0)" d="M0,-11.6 L2.3,-13.8 L2.3,0"/><path transform="translate(8.30,0)" d="M0.5,-10.3 C0.5,-12.5 2.2,-13.8 4.3,-13.8 C6.5,-13.8 8.1,-12.3 8.1,-10.2 C8.1,-8.8 7.5,-7.8 6.4,-6.6 L0.2,0 L8.6,0"/><path transform="translate(19.00,0)" d="M0.5,-10.3 C0.5,-12.5 2.2,-13.8 4.3,-13.8 C6.5,-13.8 8.1,-12.3 8.1,-10.2 C8.1,-8.8 7.5,-7.8 6.4,-6.6 L0.2,0 L8.6,0"/></g>
<line x1="918.4" y1="72.5" x2="918.4" y2="214" stroke="#787878" stroke-width="1.0" />
<line x1="1147.5" y1="72.5" x2="1147.5" y2="214" stroke="#787878" stroke-width="1.0" />
<line x1="918.4" y1="75.75" x2="1147.5" y2="75.75" stroke="#333" stroke-width="1.0" />
<path d="M918.40,75.75 L932.40,73.15 L932.40,78.35 Z" fill="#111" stroke="none"/>
<path d="M1147.50,75.75 L1133.50,78.35 L1133.50,73.15 Z" fill="#111" stroke="none"/>
<g transform="translate(1011.6,64.3) rotate(0)"><circle r="6.7" fill="none" stroke="#222" stroke-width="1.25"/><line x1="-3.55" y1="8.58" x2="3.55" y2="-8.58" stroke="#222" stroke-width="1.12"/></g>
<g transform="translate(1022.9,71.7) scale(1.0000,1.0000)" fill="none" stroke="#222" stroke-width="1.600" stroke-linecap="round" stroke-linejoin="round"><path transform="translate(0.00,0)" d="M4.3,-13.8 C6.1,-13.8 7.5,-12.4 7.5,-10.6 C7.5,-8.8 6.1,-7.6 4.3,-7.6 C2.5,-7.6 1.1,-8.8 1.1,-10.6 C1.1,-12.4 2.5,-13.8 4.3,-13.8 Z M4.3,-7.6 C6.7,-7.6 8.5,-6 8.5,-3.8 C8.5,-1.6 6.7,0 4.3,0 C1.9,0 0.1,-1.6 0.1,-3.8 C0.1,-6 1.9,-7.6 4.3,-7.6 Z"/><path transform="translate(11.00,0)" d="M6.7,0 L6.7,-13.8 L0,-4.3 L9,-4.3"/></g>
<path d="M949,349 L949,361.3 A84,15 0 0 0 1117,361.3 L1117,349" stroke="#1c1c1c" stroke-width="1.1" fill="#fff" />
<path d="M949,349 A84,13 0 0 1 1117,349" stroke="#1c1c1c" stroke-width="1.1" fill="none" />
<path d="M953,357.4 A80,11 0 0 1 1113,357.4" stroke="#1c1c1c" stroke-width="1.1" fill="none" />
<path d="M960.6,357.4 A72.4,11.5 0 0 0 1105.4,357.4" stroke="#1c1c1c" stroke-width="1.6" fill="none" />
<path d="M959,358 A74,13 0 0 0 1107,358" stroke="#1c1c1c" stroke-width="1.1" fill="none" />
<path d="M957.5,358.5 A75.5,14.3 0 0 0 1108.5,358.5" stroke="#1c1c1c" stroke-width="0.9" fill="none" />
<path d="M951.4,298 Q954.5,325 957,343.2 M1114,298 Q1111,325 1109,343.2" stroke="#1c1c1c" stroke-width="1.1" fill="none" />
<path d="M957,343.2 A76,12 0 0 1 1109,343.2" stroke="#1c1c1c" stroke-width="1.0" fill="none" />
<path d="M957,344.5 A76,10.5 0 0 1 1109,344.5" stroke="#1c1c1c" stroke-width="0.9" fill="none" />
<circle cx="1032.7" cy="221" r="113.9" stroke="#1c1c1c" stroke-width="1.1" fill="#fff" />
<circle cx="1032.7" cy="221" r="98.2" stroke="#1c1c1c" stroke-width="1.1" fill="none" />
<rect x="-5.5" y="-2.3" width="11" height="4.6" fill="#fff" stroke="#1c1c1c" stroke-width="1" transform="translate(1144.10,221.00) rotate(90)"/>
<rect x="-5.5" y="-2.3" width="11" height="4.6" fill="#fff" stroke="#1c1c1c" stroke-width="1" transform="translate(1111.47,299.77) rotate(135)"/>
<rect x="-5.5" y="-2.3" width="11" height="4.6" fill="#fff" stroke="#1c1c1c" stroke-width="1" transform="translate(1032.70,332.40) rotate(180)"/>
<rect x="-5.5" y="-2.3" width="11" height="4.6" fill="#fff" stroke="#1c1c1c" stroke-width="1" transform="translate(953.93,299.77) rotate(225)"/>
<rect x="-5.5" y="-2.3" width="11" height="4.6" fill="#fff" stroke="#1c1c1c" stroke-width="1" transform="translate(921.30,221.00) rotate(270)"/>
<rect x="-5.5" y="-2.3" width="11" height="4.6" fill="#fff" stroke="#1c1c1c" stroke-width="1" transform="translate(953.93,142.23) rotate(315)"/>
<rect x="-5.5" y="-2.3" width="11" height="4.6" fill="#fff" stroke="#1c1c1c" stroke-width="1" transform="translate(1032.70,109.60) rotate(360)"/>
<rect x="-5.5" y="-2.3" width="11" height="4.6" fill="#fff" stroke="#1c1c1c" stroke-width="1" transform="translate(1111.47,142.23) rotate(405)"/>
<path d="M961.7,154.4 C983,146 1008,140 1034.7,140 C1061,140 1085,146 1106,154.4" stroke="#1c1c1c" stroke-width="1.1" fill="none" />
<path d="M961.7,156 C975,163 993,172 1005,177 C1015,181 1022,182 1028,180 C1031,179 1033,178 1035,178 C1037,178 1039,179 1042,180 C1048,182 1055,181 1065,177 C1077,172 1094,163 1106,156" stroke="#1c1c1c" stroke-width="1.1" fill="none" />
<path d="M939,191.9 L982,214 Q994,221 999,237 Q1007,256.5 1033.5,257.5 Q1060,256.5 1068,237 Q1073,221 1085,214 L1127,191.9" stroke="#1c1c1c" stroke-width="1.1" fill="none" />
<path d="M939,191.9 Q951,205 953.3,227.6 A79.7,79.7 0 0 0 1112.1,227.6 Q1114.5,205 1127,191.9" stroke="#1c1c1c" stroke-width="1.1" fill="none" />
<path d="M1027,199.4 L1052.5,199.4 Q1059.5,199.4 1057.5,206 L1049.5,231 Q1047.5,237 1041,237 L1016,237 Q1009,237 1011,231 L1019,206 Q1021,199.4 1027,199.4 Z" stroke="#1c1c1c" stroke-width="1.1" fill="none" />
<path d="M1025.5,202.2 L1051.5,202.2 Q1054.5,202.2 1054,205 L1053.5,207 L1040,207 L1031.7,233.5 L1024.7,233.5 L1033,207 L1021.3,207 L1022.5,204.5 Q1023.3,202.2 1025.5,202.2 Z" stroke="#1c1c1c" stroke-width="1.0" fill="none" />
<path d="M1020.5,211.25 L1028.9,211.25 L1021.25,233.5 L1015,233.5 Q1012.5,233.5 1013.3,231 Z" stroke="#1c1c1c" stroke-width="1.0" fill="none" />
<path d="M1043.5,211.25 L1051,211.25 L1044.9,230.5 Q1044,233.5 1041,233.5 L1035.8,233.5 Z" stroke="#1c1c1c" stroke-width="1.0" fill="none" />
</svg></body></html>
